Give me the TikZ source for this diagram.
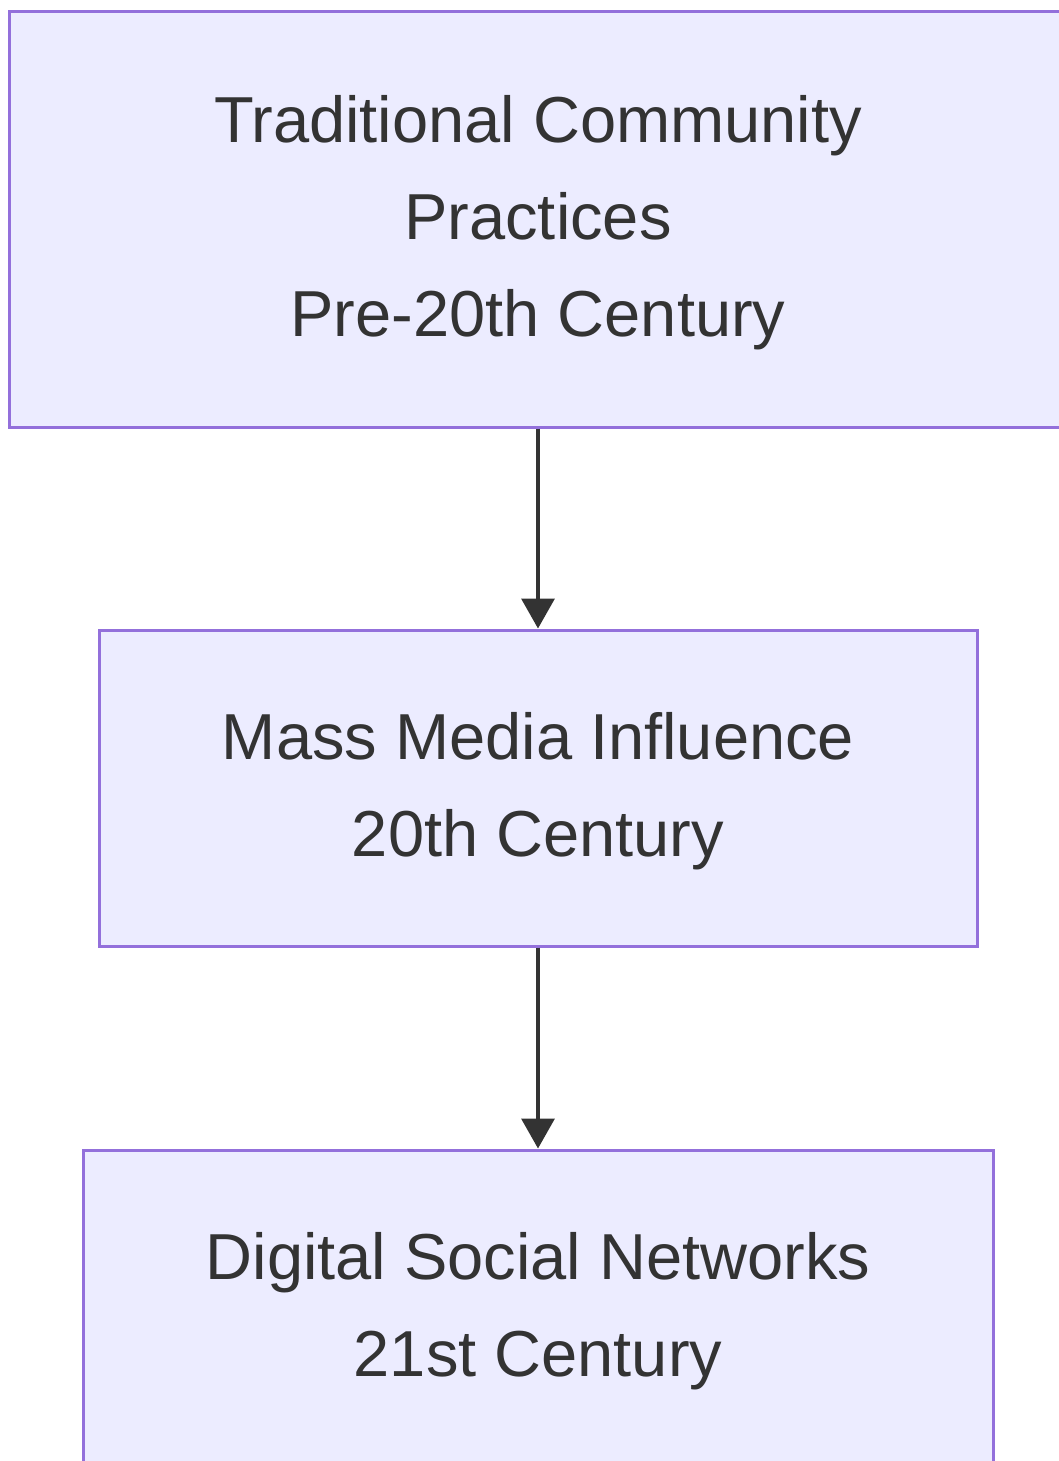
\documentclass[tikz,border=0pt]{standalone}
\usepackage{fontspec}
\setmainfont{Liberation Sans}
\usetikzlibrary{arrows.meta}
\definecolor{boxfill}{HTML}{ECECFF}
\definecolor{boxline}{HTML}{9370DB}
\definecolor{ink}{HTML}{333333}
\tikzset{
  box/.style={draw=boxline, fill=boxfill, line width=3pt, rectangle, inner sep=0pt},
  lbl/.style={text=ink, align=center, inner sep=0pt, font=\fontsize{65}{97}\selectfont},
  conn/.style={draw=ink, line width=3.5pt, -{Triangle[length=30pt,width=33pt]}, shorten >=0pt}
}
\begin{document}
\begin{tikzpicture}[x=1pt,y=-1pt]
\useasboundingbox (0,0) rectangle (1059,1461);
\clip (0,0) rectangle (1059,1461);
\node[box, minimum width=1057pt, minimum height=415pt] (a) at (538,219.5) {};
\node[box, minimum width=878pt, minimum height=316pt] (b) at (538,788) {};
\node[box, minimum width=910pt, minimum height=316pt] (c) at (538,1308) {};
\node[lbl] (ta) at ([yshift=-3pt]a.center) {Traditional Community\\Practices\\Pre-20th Century};
\node[lbl] (tb) at ([yshift=-3pt]b.center) {Mass Media Influence\\20th Century};
\node[lbl] (tc) at ([yshift=-3pt]c.center) {Digital Social Networks\\21st Century};
\draw[conn] (a.south) -- (b.north);
\draw[conn] (b.south) -- (c.north);
\end{tikzpicture}
\end{document}
